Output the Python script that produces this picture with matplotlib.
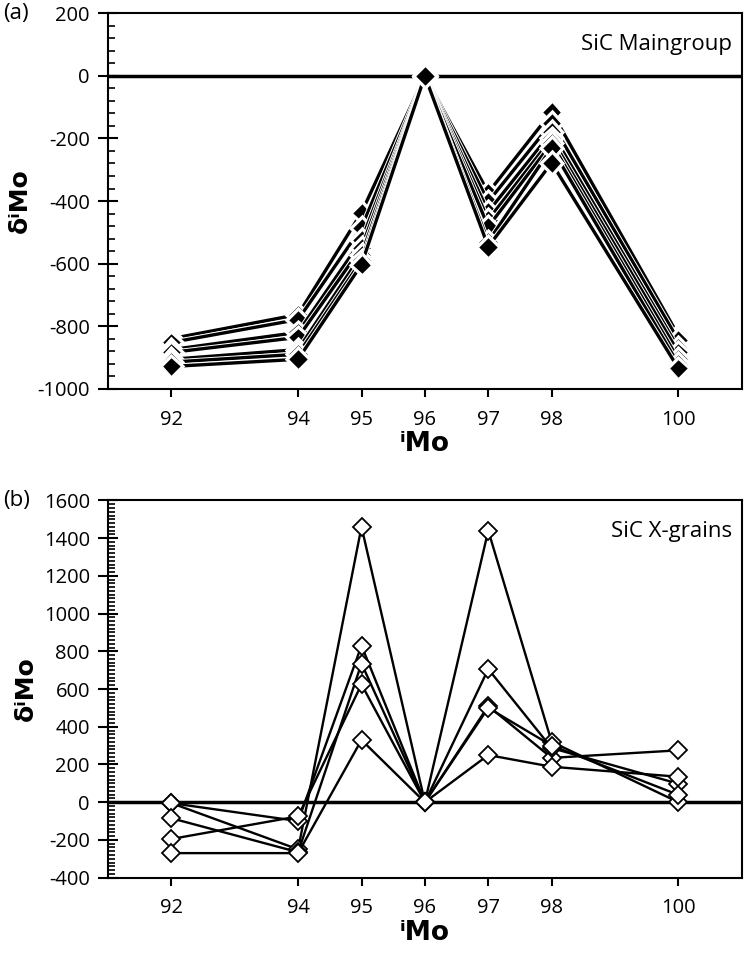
import matplotlib
matplotlib.use("Agg")
import matplotlib.pyplot as plt
import matplotlib.patheffects as pe
from matplotlib.ticker import MultipleLocator

plt.rcParams['font.family'] = ['Open Sans', 'DejaVu Sans']
plt.rcParams['axes.unicode_minus'] = False

isotopes = [92, 94, 95, 96, 97, 98, 100]

# Panel (a): SiC mainstream grains
main_series = [
    [-840, -763, -437, 0, -373, -115, -830],
    [-852, -779, -485, 0, -402, -150, -845],
    [-875, -820, -525, 0, -434, -180, -870],
    [-884, -836, -549, 0, -460, -200, -884],
    [-906, -875, -571, 0, -482, -215, -906],
    [-915, -890, -590, 0, -530, -230, -922],
    [-929, -906, -603, 0, -546, -278, -935],
]

# Panel (b): SiC X grains
x_series = [
    [-5, -250, 1460, 0, 1440, 320, 0],
    [-5, -100, 830, 0, 510, 235, 275],
    [-85, -265, 735, 0, 706, 287, 98],
    [-195, -75, 625, 0, 500, 300, 39],
    [-270, -270, 330, 0, 250, 188, 135],
]

fig = plt.figure(figsize=(7.5, 9.55), dpi=100)
axA = fig.add_axes([0.144, 0.593, 0.845, 0.393])
axB = fig.add_axes([0.144, 0.081, 0.845, 0.395])

for s in main_series:
    axA.plot(isotopes, s, color='black', lw=2.4, marker='D', ms=10,
             mfc='black', mec='white', mew=0.8,
             path_effects=[pe.Stroke(linewidth=3.8, foreground='white'), pe.Normal()],
             zorder=3)

for s in x_series:
    axB.plot(isotopes, s, color='black', lw=1.7, marker='D', ms=9.5,
             mfc='white', mec='black', mew=1.3, zorder=3)

def style(ax, ylim, major, minor, title, panel):
    ax.set_xlim(91, 101)
    ax.set_ylim(*ylim)
    ax.axhline(0, color='black', lw=2.5, zorder=2)
    ax.set_xticks(isotopes)
    ax.set_xticklabels([str(v) for v in isotopes])
    ax.yaxis.set_major_locator(MultipleLocator(major))
    ax.yaxis.set_minor_locator(MultipleLocator(minor))
    ax.tick_params(axis='x', direction='out', length=6, width=1.5, labelsize=14.5, pad=9)
    ax.tick_params(axis='y', which='major', direction='inout', length=14, width=1.5,
                   labelsize=14.5, pad=6)
    ax.tick_params(axis='y', which='minor', direction='in', length=5, width=1.2)
    for sp in ax.spines.values():
        sp.set_linewidth(1.5)
    ax.set_ylabel('δⁱMo', fontsize=18, fontweight='bold', labelpad=4,
                  family=['DejaVu Sans'])
    ax.set_xlabel('ⁱMo', fontsize=19, fontweight='bold', labelpad=1,
                  family=['DejaVu Sans'])
    ax.text(0.985, 0.945, title, transform=ax.transAxes, ha='right', va='top', fontsize=16)
    ax.text(-0.165, 1.0, panel, transform=ax.transAxes, ha='left', va='center', fontsize=16)

style(axA, (-1000, 200), 200, 40, 'SiC Maingroup', '(a)')
style(axB, (-400, 1600), 200, 20, 'SiC X-grains', '(b)')

fig.savefig('out.png', dpi=100)
